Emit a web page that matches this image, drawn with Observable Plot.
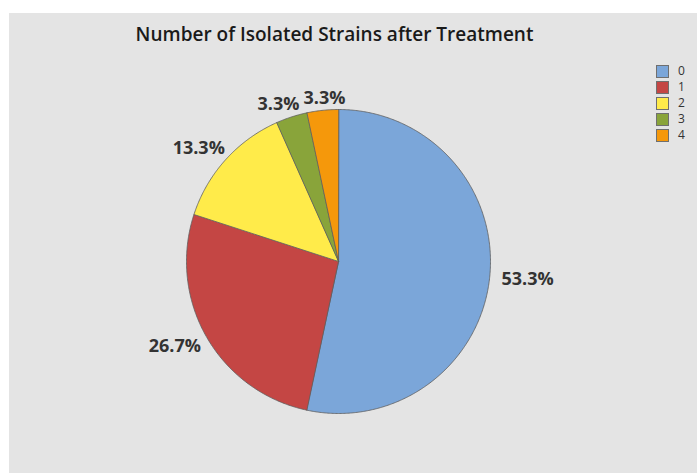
<!DOCTYPE html>
<html>
<head>
<meta charset="utf-8">
<script src="https://cdn.jsdelivr.net/npm/d3@7"></script>
<script src="https://cdn.jsdelivr.net/npm/@observablehq/plot@0.6"></script>
<style>
  html, body { margin: 0; padding: 0; background: #ffffff; }
  #chart { position: relative; width: 698px; height: 473px; overflow: hidden; font-family: "Open Sans", sans-serif; }
  #panel { position: absolute; left: 9px; top: 13px; width: 688px; height: 460px; background: #e4e4e4; }
  #plot { position: absolute; left: 0; top: 0; }
  #title { position: absolute; left: 0; top: 25px; width: 669px; text-align: center; font-size: 19px; font-weight: 600; line-height: 1; color: #1a1a1a; white-space: nowrap; }
  #legend { position: absolute; left: 656px; top: 63px; }
  .row { display: flex; align-items: center; height: 16.1px; }
  .sw { width: 13px; height: 13px; box-sizing: border-box; border: 1px solid #6f6f6f; margin-right: 9px; }
  .lab { font-size: 12px; color: #333; line-height: 1; }
</style>
</head>
<body>
<div id="chart">
  <div id="panel"></div>
  <div id="plot"></div>
  <div id="title"></div>
  <div id="legend"></div>
</div>
<script>
// Number of isolated strains per sample after treatment
const title = "Number of Isolated Strains after Treatment";
const categories = ["0", "1", "2", "3", "4"];
const counts = [16, 8, 4, 1, 1];
const palette = ["#7ba6d9", "#c44644", "#ffeb4a", "#89a43a", "#f5980b"];

// pie layout (pixels)
const cx = 338, cy = 261, r = 152;
const labelFont = "bold 18px 'Open Sans'";
const labelHalfH = 7;

const data = categories.map((c, i) => ({category: c, count: counts[i]}));
const total = d3.sum(counts);
const arcs = d3.pie().sort(null).value(d => d.count)(data);

// slice outlines in unit-circle coordinates (y up), clockwise from 12 o'clock
const slicePoints = arcs.flatMap(a => {
  const n = Math.max(2, Math.ceil((a.endAngle - a.startAngle) / (Math.PI / 360)));
  const ring = d3.range(n + 1).map(k => a.startAngle + (a.endAngle - a.startAngle) * k / n);
  return [
    {category: a.data.category, ux: 0, uy: 0},
    ...ring.map(t => ({category: a.data.category, ux: Math.sin(t), uy: Math.cos(t)}))
  ];
});

// percentage labels placed just outside each slice
const ctx = document.createElement("canvas").getContext("2d");
ctx.font = labelFont;
const labels = arcs.map(a => {
  const m = (a.startAngle + a.endAngle) / 2;
  const text = (a.data.count / total * 100).toFixed(1) + "%";
  const halfW = ctx.measureText(text).width / 2;
  const s = Math.sin(m), c = Math.cos(m);
  const gap = 4 + 8 * Math.abs(s);
  // pixel offset from centre (screen y down)
  const px = s * (r + gap) + halfW * s;
  const py = -c * (r + gap) - labelHalfH * c;
  return {text, px, py, halfW};
});
// separate labels whose boxes collide
for (let i = 0; i < labels.length; i++) {
  for (let j = i + 1; j < labels.length; j++) {
    const A = labels[i], B = labels[j];
    if (Math.abs(A.py - B.py) < 2 * labelHalfH) {
      const overlap = A.halfW + B.halfW + 4 - Math.abs(A.px - B.px);
      if (overlap > 0) {
        const dir = A.px < B.px ? -1 : 1;
        A.px += dir * overlap / 2;
        B.px -= dir * overlap / 2;
      }
    }
  }
}
labels.forEach(l => { l.ux = l.px / r; l.uy = -l.py / r; });

const plot = Plot.plot({
  width: 698,
  height: 473,
  margin: 0,
  style: {background: "transparent", fontFamily: "'Open Sans', sans-serif"},
  x: {domain: [-1, 1], range: [cx - r, cx + r], axis: null},
  y: {domain: [-1, 1], range: [cy + r, cy - r], axis: null},
  color: {type: "ordinal", domain: categories, range: palette},
  marks: [
    Plot.line(slicePoints, {
      x: "ux", y: "uy", z: "category", fill: "category",
      stroke: "#5d5d5d", strokeWidth: 0.8, curve: "linear-closed"
    }),
    Plot.text(labels, {
      x: "ux", y: "uy", text: "text",
      fontSize: 18, fontWeight: "bold", fill: "#333333",
      textAnchor: "middle", lineAnchor: "middle"
    })
  ]
});
document.getElementById("plot").appendChild(plot);
document.getElementById("title").textContent = title;

const color = plot.scale("color");
const legend = d3.select("#legend");
categories.forEach((c, i) => {
  const row = legend.append("div").attr("class", "row");
  row.append("div").attr("class", "sw").style("background", color.range[i]);
  row.append("span").attr("class", "lab").text(c);
});
</script>
</body>
</html>
